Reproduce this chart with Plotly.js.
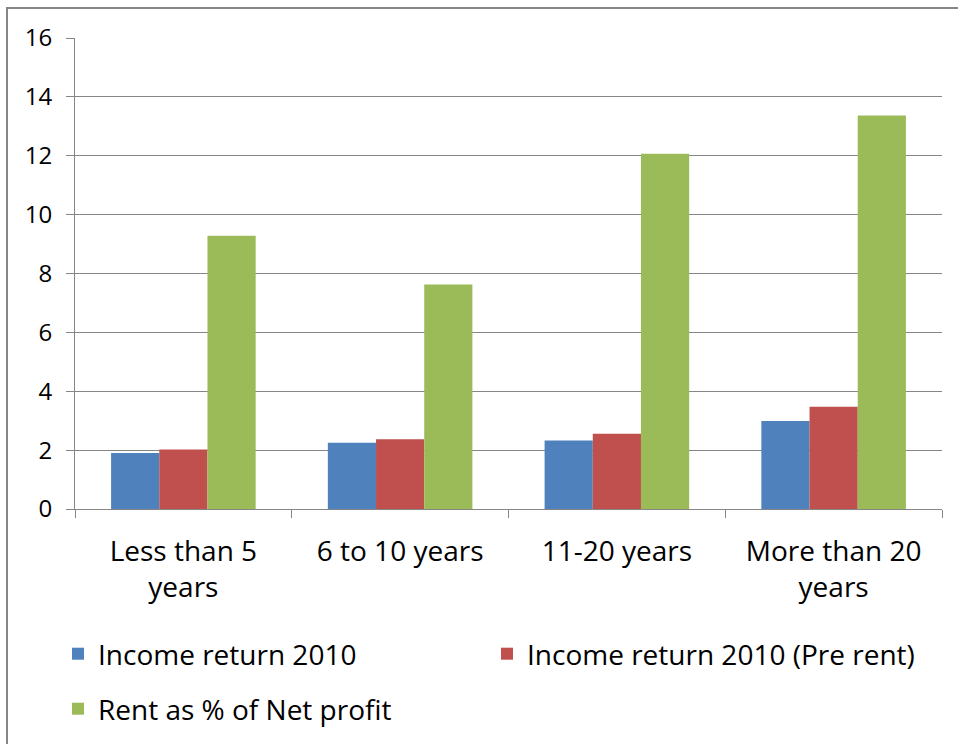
<!DOCTYPE html>
<html>
<head>
<meta charset="utf-8">
<script src="https://cdn.plot.ly/plotly-3.0.1.min.js"></script>
<style>
  html, body { margin: 0; padding: 0; background: #ffffff; }
  #chart { width: 958px; height: 744px; }
</style>
</head>
<body>
<div id="chart"></div>
<script>
const categories = ["Less than 5<br>years", "6 to 10 years", "11-20 years", "More than 20<br>years"];
const seriesNames = ["Income return 2010", "Income return 2010 (Pre rent)", "Rent as % of Net profit"];
const incomeReturn = [1.90, 2.25, 2.33, 2.99];
const incomeReturnPreRent = [2.02, 2.37, 2.56, 3.47];
const rentPctNetProfit = [9.28, 7.63, 12.07, 13.37];
const yTicks = [0, 2, 4, 6, 8, 10, 12, 14, 16];

const colors = ["#4F81BD", "#C0504D", "#9BBB59"];
const FONT = "Open Sans, sans-serif";

const values = [incomeReturn, incomeReturnPreRent, rentPctNetProfit];
const legendIds = ["legend", "legend2", "legend3"];

const traces = values.map((v, i) => ({
  type: "bar",
  x: categories,
  y: v,
  name: seriesNames[i],
  marker: { color: colors[i], line: { width: 0 } },
  legend: legendIds[i],
  hoverinfo: "x+y+name"
}));

const legendFont = { family: FONT, size: 28, color: "#000000" };
function legendAt(px, py) {
  return {
    x: px / 958, y: 1 - py / 744,
    xref: "container", yref: "container",
    xanchor: "left", yanchor: "middle",
    font: legendFont, bgcolor: "rgba(0,0,0,0)", borderwidth: 0
  };
}

const layout = {
  width: 958, height: 744,
  margin: { l: 75, r: 16, t: 38, b: 235, autoexpand: false },
  paper_bgcolor: "#ffffff",
  plot_bgcolor: "#ffffff",
  font: { family: FONT, color: "#000000" },
  barmode: "group",
  bargap: 0.333,
  bargroupgap: 0,
  showlegend: true,
  legend: legendAt(58, 654),
  legend2: legendAt(487, 654),
  legend3: legendAt(58, 709),
  xaxis: {
    type: "category",
    tickson: "boundaries",
    ticks: "outside",
    ticklen: 8,
    tickcolor: "#868686",
    tickwidth: 1,
    tickangle: 0,
    automargin: false,
    showline: true,
    linecolor: "#868686",
    linewidth: 1,
    showgrid: false,
    tickfont: { family: FONT, size: 28, color: "#000000" },
    ticklabelstandoff: 17,
    fixedrange: true
  },
  yaxis: {
    range: [0, 16],
    tickvals: yTicks,
    ticktext: yTicks.map(String),
    ticks: "outside",
    ticklen: 8,
    tickcolor: "#868686",
    automargin: false,
    showline: true,
    linecolor: "#868686",
    linewidth: 1,
    showgrid: true,
    gridcolor: "#868686",
    gridwidth: 1,
    zeroline: false,
    tickfont: { family: FONT, size: 24, color: "#000000" },
    ticklabelstandoff: 9,
    fixedrange: true
  },
  shapes: [{
    type: "rect", xref: "paper", yref: "paper",
    x0: (7 - 75) / 867, x1: (970 - 75) / 867,
    y0: (509 - 760) / 471, y1: (509 - 8) / 471,
    line: { color: "#868686", width: 2 },
    fillcolor: "rgba(0,0,0,0)",
    layer: "below"
  }]
};

Plotly.newPlot("chart", traces, layout, { displayModeBar: false, staticPlot: true });
</script>
</body>
</html>
